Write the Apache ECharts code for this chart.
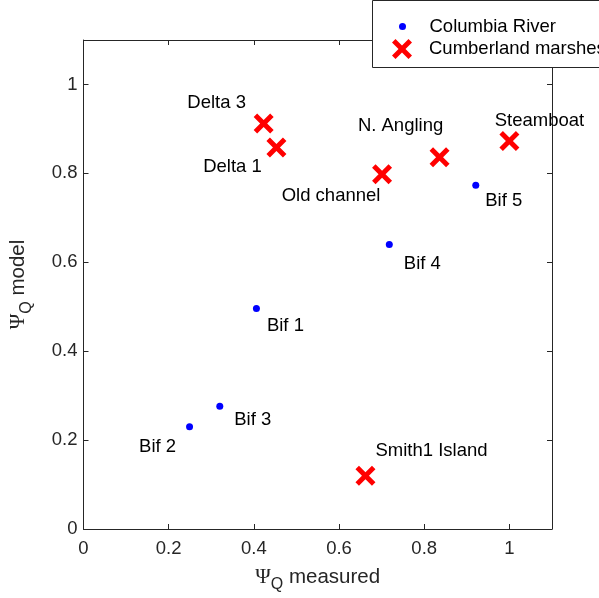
<!DOCTYPE html>
<html>
<head>
<meta charset="utf-8">
<script src="https://cdn.jsdelivr.net/npm/echarts@6/dist/echarts.min.js"></script>
<style>
  html, body { margin: 0; padding: 0; background: #fff; }
  #chart { width: 599px; height: 598px; }
</style>
</head>
<body>
<div id="chart"></div>
<script>
// Columbia River bifurcations
const columbiaNames = ['Bif 1', 'Bif 2', 'Bif 3', 'Bif 4', 'Bif 5'];
const columbiaMeasured = [0.406, 0.249, 0.320, 0.718, 0.921];
const columbiaModel = [0.496, 0.230, 0.276, 0.640, 0.773];

// Cumberland marshes bifurcations
const cumberlandNames = ['Delta 3', 'Delta 1', 'Old channel', 'N. Angling', 'Steamboat', 'Smith1 Island'];
const cumberlandMeasured = [0.423, 0.453, 0.701, 0.836, 1.000, 0.662];
const cumberlandModel = [0.912, 0.858, 0.798, 0.836, 0.873, 0.120];

const tickValues = [0, 0.2, 0.4, 0.6, 0.8, 1];

// Label placement relative to each marker (pixels)
const columbiaLabelOffsets = [[29, 17], [-32, 20], [33, 14], [33, 19], [28, 16]];
const cumberlandLabelOffsets = [[-47, -21], [-44, 19], [-51, 22], [-39, -31], [30, -20], [66, -25]];

const AXIS = '#262626';
const FONT = 'Liberation Sans, Arial, sans-serif';
const FS = 18.5;
const CROSS = 'path://M0,3.5 L3.5,0 L10,6.5 L16.5,0 L20,3.5 L13.5,10 L20,16.5 L16.5,20 L10,13.5 L3.5,20 L0,16.5 L6.5,10 Z';

function points(xs, ys, names, offsets) {
  return xs.map((x, i) => ({
    name: names[i],
    value: [x, ys[i]],
    label: { offset: offsets[i] }
  }));
}

// Axis titles: Greek psi with a subscript Q
const nameRich = {
  psi: { fontFamily: 'Liberation Serif, DejaVu Serif, serif', fontSize: 21, color: AXIS },
  sub: { fontFamily: FONT, fontSize: 16, color: AXIS, padding: [16, 0, 0, 0] },
  txt: { fontFamily: FONT, fontSize: 20.5, color: AXIS }
};

function valueAxis(extra) {
  return Object.assign({
    type: 'value',
    min: 0,
    max: 1.1,
    interval: 0.2,
    splitLine: { show: false },
    axisLine: { show: true, onZero: false, lineStyle: { color: AXIS, width: 1 } },
    axisTick: { show: true, inside: true, length: 5, lineStyle: { color: AXIS } },
    axisLabel: { show: false }
  }, extra);
}

const labelStyle = {
  show: true,
  formatter: '{b}',
  position: 'inside',
  align: 'center',
  verticalAlign: 'middle',
  fontFamily: FONT,
  fontSize: FS,
  color: '#000'
};

const chart = echarts.init(document.getElementById('chart'), null, { renderer: 'canvas' });
chart.setOption({
  animation: false,
  backgroundColor: '#fff',
  grid: { left: 82, right: 47, top: 40, bottom: 67, containLabel: false },
  xAxis: [
    valueAxis({
      position: 'bottom',
      axisLabel: {
        show: true, showMaxLabel: false, margin: 10,
        fontFamily: FONT, fontSize: FS, color: AXIS
      },
      name: '{psi|Ψ}{sub|Q}{txt| measured}',
      nameLocation: 'middle',
      nameGap: 32,
      nameTextStyle: { rich: nameRich }
    }),
    valueAxis({ position: 'top' })
  ],
  yAxis: [
    valueAxis({
      position: 'left',
      axisLabel: {
        show: true, showMaxLabel: false, margin: 6,
        fontFamily: FONT, fontSize: FS, color: AXIS
      },
      name: '{psi|Ψ}{sub|Q}{txt| model}',
      nameLocation: 'middle',
      nameGap: 49,
      nameTextStyle: { rich: nameRich }
    }),
    valueAxis({ position: 'right' })
  ],
  legend: [
    {
      data: ['Columbia River'],
      left: 399, top: 17,
      padding: 0,
      itemWidth: 44, itemHeight: 7,
      itemGap: 0,
      textStyle: { fontFamily: FONT, fontSize: FS, color: '#000' },
      z: 11
    },
    {
      data: ['Cumberland marshes'],
      left: 392, top: 39,
      padding: 0,
      itemWidth: 44, itemHeight: 20,
      itemGap: 0,
      textStyle: { fontFamily: FONT, fontSize: FS, color: '#000' },
      z: 11
    }
  ],
  graphic: [{
    type: 'rect',
    left: 372, top: 0,
    z: 10,
    shape: { width: 270, height: 67 },
    style: { fill: '#fff', stroke: AXIS, lineWidth: 1 }
  }],
  series: [
    {
      name: 'Columbia River',
      type: 'scatter',
      symbol: 'circle',
      symbolSize: 7,
      itemStyle: { color: '#0000ff', opacity: 1 },
      label: labelStyle,
      data: points(columbiaMeasured, columbiaModel, columbiaNames, columbiaLabelOffsets)
    },
    {
      name: 'Cumberland marshes',
      type: 'scatter',
      symbol: CROSS,
      symbolSize: 20,
      itemStyle: { color: '#ff0000', opacity: 1 },
      label: labelStyle,
      data: points(cumberlandMeasured, cumberlandModel, cumberlandNames, cumberlandLabelOffsets)
    }
  ]
});
</script>
</body>
</html>
